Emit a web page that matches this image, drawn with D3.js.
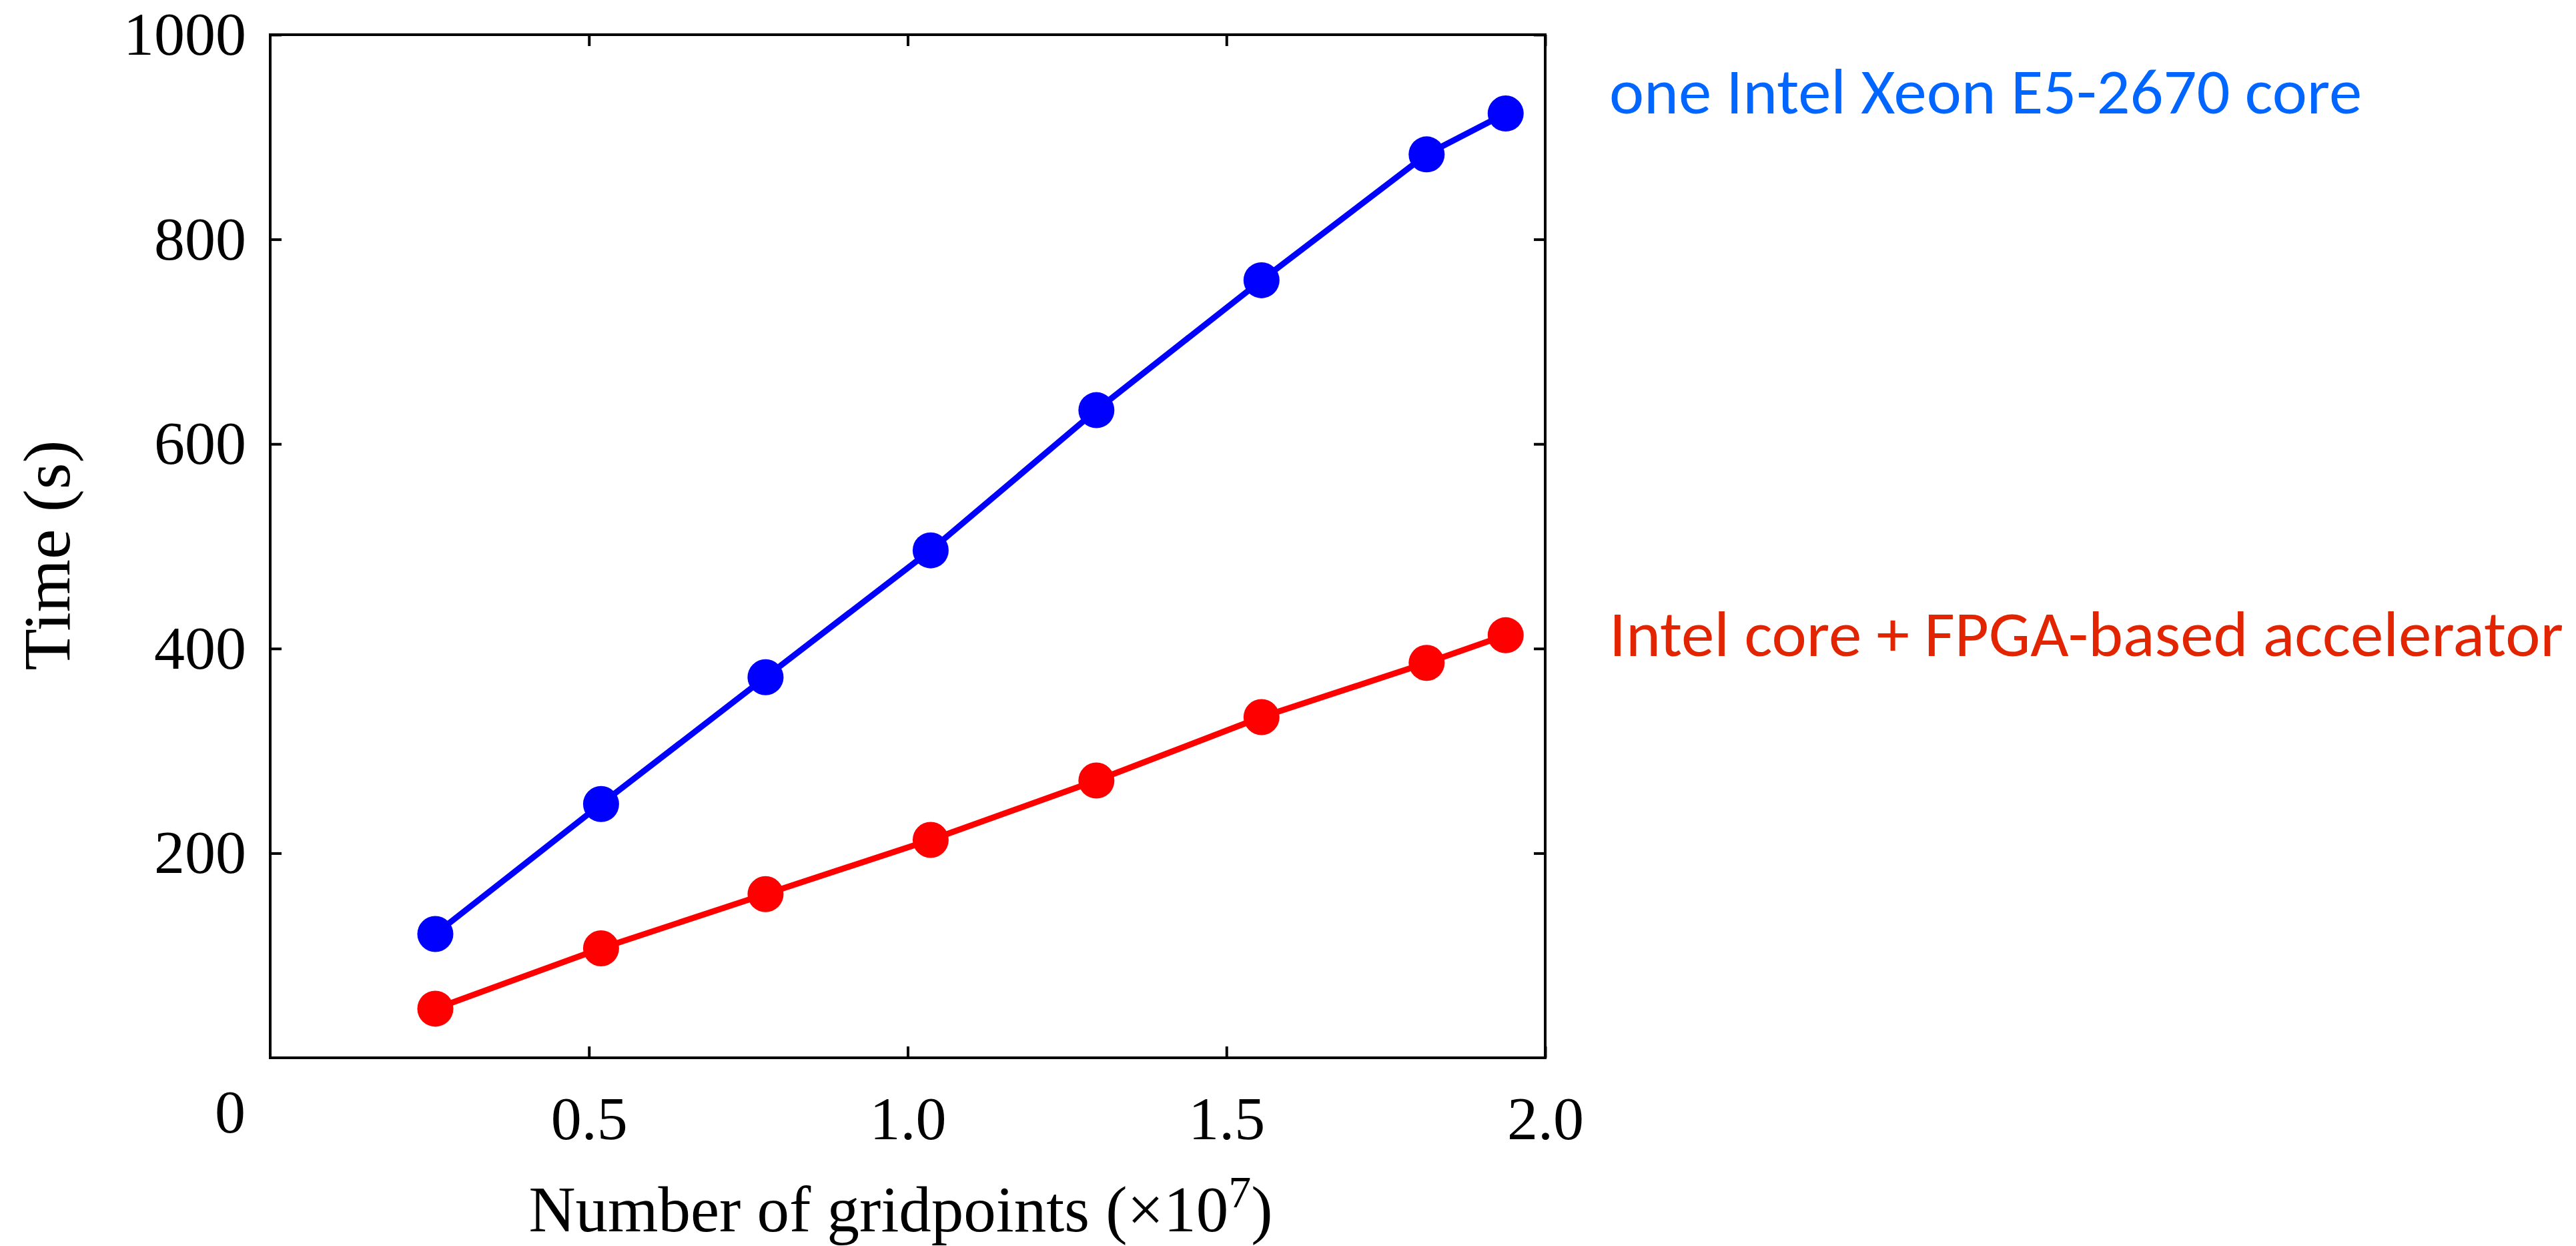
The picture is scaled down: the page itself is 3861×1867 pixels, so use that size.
<!DOCTYPE html>
<html>
<head>
<meta charset="utf-8">
<script src="https://cdn.jsdelivr.net/npm/d3@7"></script>
<style>
  body { margin: 0; background: #fff; }
  .axis text { font-family: "Liberation Serif", "DejaVu Serif", serif; fill: #000; }
</style>
</head>
<body>
<script>
const width = 3861;
const height = 1867;

const margin = {
    left: 405,
    right: 3861 - 2316,
    top: 52,
    bottom: 1867 - 1585
};

// data
const gridpoints = [0.259, 0.519, 0.777, 1.036, 1.296, 1.555, 1.814, 1.938];
const xeonTimes = [121, 248, 372, 496, 633, 760, 883, 923];
const fpgaTimes = [48, 107, 160, 213, 271, 333, 386, 413];
const seriesNames = ["one Intel Xeon E5-2670 core", "Intel core + FPGA-based accelerator"];
const xTicks = [0.5, 1.0, 1.5, 2.0];
const yTicks = [200, 400, 600, 800, 1000];

const lineColors = ["#0000ff", "#ff0000"];
const textColors = ["#0066ff", "#e32400"];
const labelWidths = [1128, 1430];
const labelShift = [0, 31];

let svg = d3.select("body").append("svg")
    .attr("width", width)
    .attr("height", height);

let xScale = d3.scaleLinear()
    .domain([0, 2])
    .range([margin.left, width - margin.right]);

let yScale = d3.scaleLinear()
    .domain([0, 1000])
    .range([height - margin.bottom, margin.top]);

const tickLen = 17;

let xAxis = svg.append("g")
    .attr("class", "axis axis--x")
    .attr("transform", "translate(0," + (height - margin.bottom) + ")")
    .call(d3.axisBottom(xScale)
        .tickValues(xTicks)
        .tickFormat(d3.format(".1f"))
        .tickSizeInner(-tickLen)
        .tickSizeOuter(0)
        .tickPadding(57));

let yAxis = svg.append("g")
    .attr("class", "axis axis--y")
    .attr("transform", "translate(" + margin.left + ",0)")
    .call(d3.axisLeft(yScale)
        .tickValues(yTicks)
        .tickFormat(d3.format("d"))
        .tickSizeInner(-tickLen)
        .tickSizeOuter(0)
        .tickPadding(36));

let topAxis = svg.append("g")
    .attr("class", "axis")
    .attr("transform", "translate(0," + margin.top + ")")
    .call(d3.axisTop(xScale).tickValues(xTicks).tickFormat("")
        .tickSizeInner(-tickLen).tickSizeOuter(0));

let rightAxis = svg.append("g")
    .attr("class", "axis")
    .attr("transform", "translate(" + (width - margin.right) + ",0)")
    .call(d3.axisRight(yScale).tickValues(yTicks).tickFormat("")
        .tickSizeInner(-tickLen).tickSizeOuter(0));

svg.selectAll(".axis .domain").remove();
svg.selectAll(".axis line")
    .attr("stroke", "#000")
    .attr("stroke-width", 4);
svg.selectAll(".axis text")
    .style("font-size", "92px");

// frame
svg.append("rect")
    .attr("x", xScale(0))
    .attr("y", yScale(1000))
    .attr("width", xScale(2) - xScale(0))
    .attr("height", yScale(0) - yScale(1000))
    .attr("fill", "none")
    .attr("stroke", "#000")
    .attr("stroke-width", 4);

// shared origin label
svg.append("text")
    .attr("class", "axis")
    .attr("x", xScale(0) - 60)
    .attr("y", yScale(0) + 112)
    .attr("text-anchor", "middle")
    .style("font-family", "'Liberation Serif', serif")
    .style("font-size", "92px")
    .text("0");

// axis titles
svg.append("text")
    .attr("x", 1350)
    .attr("y", 1845)
    .attr("text-anchor", "middle")
    .style("font-family", "'Liberation Serif', serif")
    .style("font-size", "97px")
    .call(t => {
        t.append("tspan").text("Number of gridpoints (×10");
        t.append("tspan").attr("dy", -36).style("font-size", "68px").text("7");
        t.append("tspan").attr("dy", 36).text(")");
    });

svg.append("text")
    .attr("text-anchor", "middle")
    .attr("transform", "translate(104,832) rotate(-90)")
    .attr("textLength", 345)
    .attr("lengthAdjust", "spacingAndGlyphs")
    .style("font-family", "'Liberation Serif', serif")
    .style("font-size", "100px")
    .text("Time (s)");

let series = [xeonTimes, fpgaTimes].map((vals, i) => ({
    name: seriesNames[i],
    values: vals.map((v, j) => ({ x: gridpoints[j], y: v }))
}));

let line = d3.line()
    .x(d => xScale(d.x))
    .y(d => yScale(d.y));

let groups = svg.selectAll(".series")
    .data(series)
    .enter()
    .append("g")
    .attr("class", "series");

groups.append("path")
    .attr("fill", "none")
    .attr("stroke", (d, i) => lineColors[i])
    .attr("stroke-width", 9)
    .attr("stroke-linejoin", "round")
    .attr("d", d => line(d.values));

groups.selectAll("circle")
    .data((d, i) => d.values.map(v => ({ ...v, i: i })))
    .enter()
    .append("circle")
    .attr("cx", d => xScale(d.x))
    .attr("cy", d => yScale(d.y))
    .attr("r", 27)
    .attr("fill", d => lineColors[d.i]);

// series labels next to the end of each line
groups.append("text")
    .attr("x", 2412)
    .attr("y", (d, i) => yScale(d.values[d.values.length - 1].y) + labelShift[i])
    .attr("fill", (d, i) => textColors[i])
    .attr("textLength", (d, i) => labelWidths[i])
    .attr("lengthAdjust", "spacingAndGlyphs")
    .style("font-family", "Carlito, 'Liberation Sans Narrow', 'Open Sans', sans-serif")
    .style("font-size", "96px")
    .text(d => d.name);
</script>
</body>
</html>
